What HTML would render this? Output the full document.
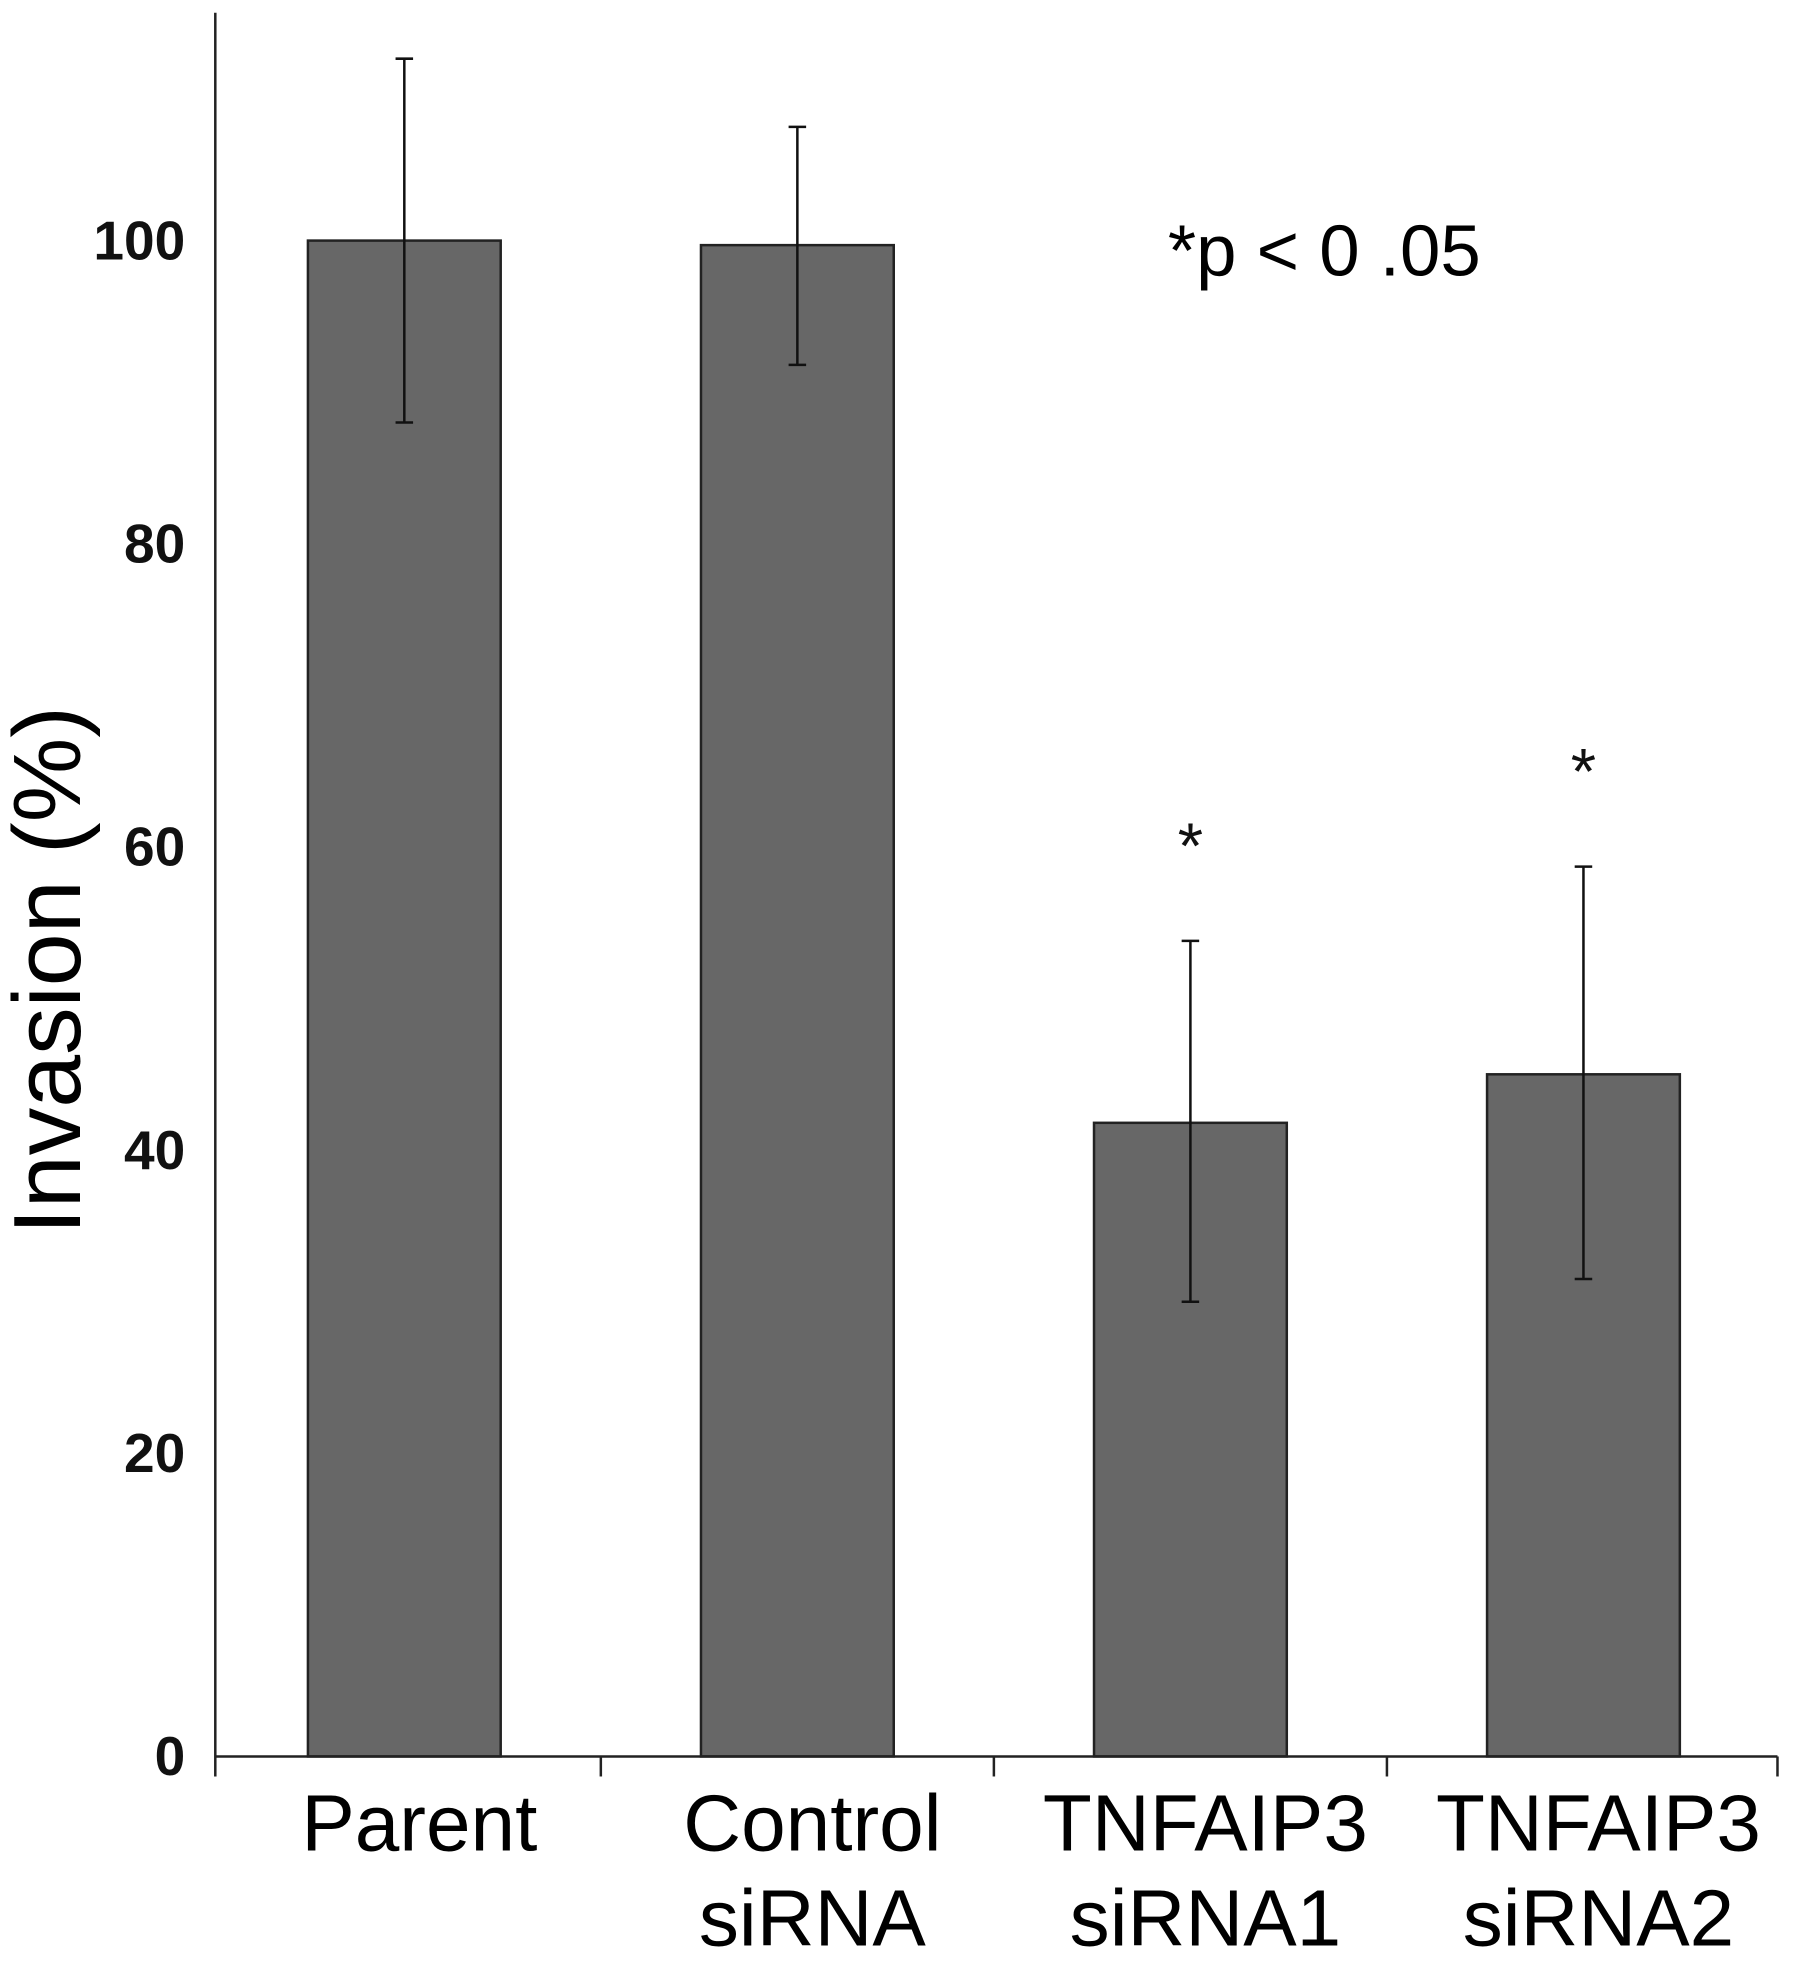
<!DOCTYPE html>
<html><head><meta charset="utf-8"><style>html,body{margin:0;padding:0;background:#fff}svg{display:block}</style></head>
<body>
<svg id="chart" width="1795" height="1967" viewBox="0 0 1434 1571" xmlns="http://www.w3.org/2000/svg" font-family="Liberation Sans, sans-serif">
<rect width="1434" height="1571" fill="#fff"/>
<g id="g"></g>
</svg>
<script>
const categories = [["Parent"],["Control","siRNA"],["TNFAIP3","siRNA1"],["TNFAIP3","siRNA2"]];
const values = [100, 99.7, 41.8, 45.0];
const errHigh = [112.0, 107.5, 53.8, 58.7];
const errLow = [88.0, 91.8, 30.0, 31.5];
const significant = [false, false, true, true];
const yTicks = [0, 20, 40, 60, 80, 100];

const NS = "http://www.w3.org/2000/svg";
const g = document.getElementById('g');
const x0 = 172, x1 = 1420, y0 = 1403, pxPer = 12.11;
const y = v => y0 - v * pxPer;
const step = 314, first = 323;
const xc = i => first + step * i;
const barW = 154;
function el(t, a, txt){const e=document.createElementNS(NS,t);for(const k in a)e.setAttribute(k,a[k]);if(txt!==undefined)e.textContent=txt;g.appendChild(e);return e;}

let e;
values.forEach((v,i)=>{
  e = el('rect',{x:xc(i)-barW/2,y:y(v),width:barW,height:y0-y(v),fill:'#676767',stroke:'#222','stroke-width':2});
  
  
  const cx = xc(i);
  e = el('path',{d:`M${cx},${y(errHigh[i])}V${y(errLow[i])}M${cx-7},${y(errHigh[i])}H${cx+7}M${cx-7},${y(errLow[i])}H${cx+7}`,stroke:'#111','stroke-width':2,fill:'none'});
  
  
  if(significant[i]){
    e = el('text',{x:cx,y:y(errHigh[i])-58,'font-size':52,'text-anchor':'middle',fill:'#111'},'*');
    
    
  }
  categories[i].forEach((line,j)=>{
    e = el('text',{x:cx+12,y:1478+j*76,'font-size':64,'text-anchor':'middle',fill:'#000'},line);
    
    
  });
});
e = el('path',{d:`M${x0},10V${y0+16}M${x0},${y0}H${x1}`,stroke:'#222','stroke-width':2,fill:'none'});


for(let i=1;i<=categories.length;i++){
  const tx = i < categories.length ? (xc(i-1)+xc(i))/2 : x1;
  e = el('line',{x1:tx,x2:tx,y1:y0,y2:y0+16,stroke:'#222','stroke-width':2});
  
  
}
yTicks.forEach(t=>{
  e = el('text',{x:148,y:y(t)+15,'font-size':44,'font-weight':'bold','text-anchor':'end',fill:'#111'},String(t));
  
  
});
e = el('text',{x:0,y:0,'font-size':76,'text-anchor':'middle',fill:'#000',transform:'translate(64,775) rotate(-90)'},'Invasion (%)');


e = el('text',{x:933,y:220,'font-size':58,fill:'#000'},'*p < 0 .05');


</script>
</body></html>
